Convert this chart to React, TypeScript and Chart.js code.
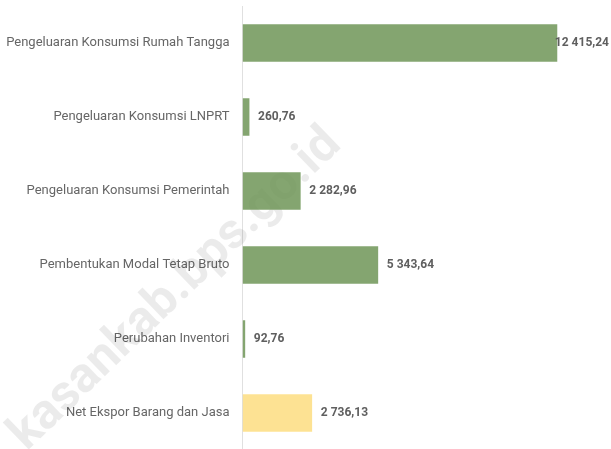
import React, { useEffect, useRef } from "react";
import { Chart, registerables } from "chart.js";

Chart.register(...registerables);

const categories = [
  "Pengeluaran Konsumsi Rumah Tangga",
  "Pengeluaran Konsumsi LNPRT",
  "Pengeluaran Konsumsi Pemerintah",
  "Pembentukan Modal Tetap Bruto",
  "Perubahan Inventori",
  "Net Ekspor Barang dan Jasa",
];
const values = [12415.24, 260.76, 2282.96, 5343.64, 92.76, 2736.13];
const barColors = [
  "rgba(111,149,87,0.85)",
  "rgba(111,149,87,0.85)",
  "rgba(111,149,87,0.85)",
  "rgba(111,149,87,0.85)",
  "rgba(111,149,87,0.85)",
  "rgba(253,221,128,0.85)",
];
const watermarkText = "kasankab.bps.go.id";

function fmt(v: number): string {
  const [i, d] = v.toFixed(2).split(".");
  const g = i.replace(/\B(?=(\d{3})+(?!\d))/g, " ");
  return g + "," + d;
}

const watermarkPlugin = {
  id: "watermark",
  beforeDatasetsDraw(chart: any) {
    const ctx = chart.ctx;
    ctx.save();
    ctx.translate(176, 290);
    ctx.rotate((-44 * Math.PI) / 180);
    ctx.font = "bold 50px Roboto";
    ctx.fillStyle = "rgba(0,0,0,0.08)";
    ctx.textAlign = "center";
    ctx.textBaseline = "middle";
    ctx.fillText(watermarkText, 0, 0);
    ctx.restore();
  },
};

const valueLabelPlugin = {
  id: "valueLabels",
  afterDatasetsDraw(chart: any) {
    const ctx = chart.ctx;
    const meta = chart.getDatasetMeta(0);
    ctx.save();
    ctx.font = "bold 12px Roboto";
    ctx.fillStyle = "#5f5f5f";
    ctx.textAlign = "left";
    ctx.textBaseline = "middle";
    meta.data.forEach((bar: any, i: number) => {
      const text = fmt(values[i]);
      const w = ctx.measureText(text).width;
      let x = bar.x + 9;
      if (x + w > chart.width - 2) x = chart.width - 2 - w;
      ctx.fillText(text, x, bar.y);
    });
    ctx.restore();
  },
};

export default function App() {
  const ref = useRef<HTMLCanvasElement>(null);
  useEffect(() => {
    if (!ref.current) return;
    const chart = new Chart(ref.current, {
      type: "bar",
      data: {
        labels: categories,
        datasets: [
          {
            data: values,
            backgroundColor: barColors,
            borderWidth: 0,
            barThickness: 37,
          },
        ],
      },
      options: {
        indexAxis: "y",
        animation: false,
        responsive: true,
        maintainAspectRatio: false,
        layout: { padding: { top: 6, right: 0, bottom: 0, left: 0 } },
        plugins: { legend: { display: false }, tooltip: { enabled: false } },
        scales: {
          x: {
            min: 0,
            max: 14550,
            ticks: { display: false, stepSize: 2000 },
            afterBuildTicks: (axis: any) => {
              axis.ticks = axis.ticks.filter((t: any) => t.value % 2000 === 0);
            },
            afterFit: (axis: any) => {
              axis.height = 0;
              axis.paddingLeft = 0;
              axis.paddingRight = 0;
            },
            grid: { color: "#e0e0e0", drawTicks: false, lineWidth: 1 },
            border: { display: false },
          },
          y: {
            afterFit: (axis: any) => {
              axis.width = 242.5;
              axis.paddingTop = 0;
              axis.paddingBottom = 0;
            },
            ticks: {
              padding: 13,
              color: "#666666",
              font: { family: "Roboto", size: 13 },
            },
            grid: { display: false, drawTicks: false },
            border: { display: false },
          },
        },
      },
      plugins: [watermarkPlugin, valueLabelPlugin],
    });
    return () => chart.destroy();
  }, []);
  return (
    <div
      style={{
        position: "fixed",
        top: 0,
        left: 0,
        width: 611,
        height: 449,
        overflow: "hidden",
        background: "#fff",
      }}
    >
      <div style={{ position: "relative", width: 611, height: 450 }}>
        <canvas ref={ref} />
      </div>
    </div>
  );
}
